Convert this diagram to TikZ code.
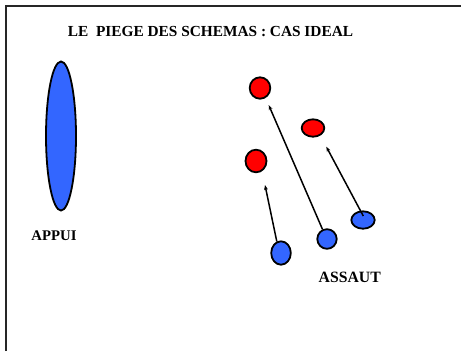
\documentclass[tikz,border=0pt]{standalone}
\usepackage{fontspec}
\setmainfont{Liberation Serif}
\usetikzlibrary{arrows.meta,shapes.geometric}
\definecolor{redfill}{RGB}{255,0,0}
\definecolor{bluefill}{RGB}{51,102,255}
\begin{document}
\begin{tikzpicture}[x=1bp,y=-1bp,
  pion/.style={ellipse,draw=black,line width=1.8bp,inner sep=0pt},
  rouge/.style={pion,fill=redfill},
  bleu/.style={pion,fill=bluefill},
  txt/.style={font=\bfseries\fontsize{15}{15}\selectfont,inner sep=0pt,anchor=base},
  fleche/.style={line width=1.5bp,-{Stealth[length=5bp,width=3.8bp]}}]
\useasboundingbox (0,0) rectangle (461,351);
\fill[white] (0,0) rectangle (461,351);
\draw[line width=1.6bp,black!85] (6,351) -- (6,6) -- (461,6);
\node[txt,font=\bfseries\fontsize{15.4}{16}\selectfont] (titre) at (210.5,36) {LE\ \ PIEGE DES SCHEMAS : CAS IDEAL};
\node[bleu,minimum width=30bp,minimum height=149bp] (appui) at (61,136) {};
\node[txt,font=\bfseries\fontsize{14.8}{15}\selectfont] (lappui) at (54,240) {APPUI};
\node[rouge,minimum width=20.6bp,minimum height=21.4bp] (r1) at (260,88) {};
\node[rouge,minimum width=22.6bp,minimum height=17.4bp] (r2) at (313,128) {};
\node[rouge,minimum width=21bp,minimum height=22.6bp] (r3) at (256,161) {};
\node[bleu,minimum width=19.6bp,minimum height=23.4bp] (b1) at (281,253) {};
\node[bleu,minimum width=19.4bp,minimum height=19.6bp] (b2) at (327,239) {};
\node[bleu,minimum width=23.4bp,minimum height=17.4bp] (b3) at (363,220) {};
\node[txt,font=\bfseries\fontsize{15.8}{16}\selectfont] (lassaut) at (349.7,282) {ASSAUT};
\coordinate (t1) at (265,185);
\coordinate (t2) at (268.7,105);
\coordinate (t3) at (326.3,146.7);
\coordinate (s3) at (363.3,216);
\draw[fleche] (b1.110) -- (t1);
\draw[fleche] (b2.115) -- (t2);
\draw[fleche] (s3) -- (t3);
\end{tikzpicture}
\end{document}
